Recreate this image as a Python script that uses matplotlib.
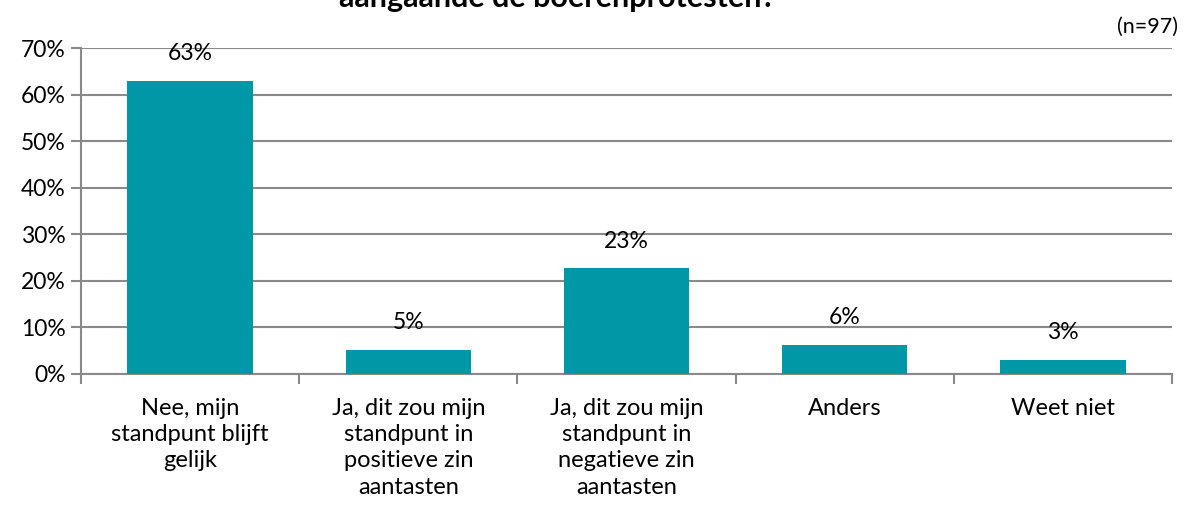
import matplotlib.pyplot as plt
import numpy as np

plt.rcParams['font.family'] = ['Lato', 'DejaVu Sans']

categories = ['Nee, mijn\nstandpunt blijft\ngelijk',
              'Ja, dit zou mijn\nstandpunt in\npositieve zin\naantasten',
              'Ja, dit zou mijn\nstandpunt in\nnegatieve zin\naantasten',
              'Anders',
              'Weet niet']
values = [62.9, 5.2, 22.7, 6.2, 3.1]
yticks = [0, 10, 20, 30, 40, 50, 60, 70]

teal = '#0097A7'
grid = '#898989'

fig = plt.figure(figsize=(11.86, 5.19), dpi=100)
ax = fig.add_axes([81 / 1186, 1 - 374 / 519, (1172 - 81) / 1186, (374 - 48) / 519])

x = np.arange(len(categories))
bars = ax.bar(x, values, width=0.575, color=teal, zorder=3)
for xi, v in zip(x, values):
    ax.annotate(f'{round(v)}%', (xi, v), xytext=(0, 12), textcoords='offset points',
                ha='center', va='bottom', fontsize=16.5)

ax.set_xlim(-0.5, len(categories) - 0.5)
ax.set_ylim(0, 70)
ax.set_yticks(yticks)
ax.set_yticklabels([f'{t}%' for t in yticks], fontsize=16.5)
ax.yaxis.grid(True, color=grid, linewidth=1.5, zorder=0)
ax.tick_params(axis='y', length=7, width=1.5, color=grid, pad=4)

ax.set_xticks(np.arange(len(categories) + 1) - 0.5)
ax.set_xticklabels([])
ax.set_xticks(x, minor=True)
ax.set_xticklabels(categories, minor=True, fontsize=17, linespacing=1.32, va='top')
ax.tick_params(axis='x', which='major', length=7, width=1.5, color=grid)
ax.tick_params(axis='x', which='minor', length=0, pad=17)

for s in ['top', 'right']:
    ax.spines[s].set_visible(False)
for s in ['left', 'bottom']:
    ax.spines[s].set_color(grid)
    ax.spines[s].set_linewidth(1.5)

fig.text(557 / 1186, 1 - 7 / 519, 'aangaande de boerenprotesten?', ha='center',
         va='baseline', fontsize=22, fontweight='bold')
fig.text(1178 / 1186, 1 - 27 / 519, '(n=97)', ha='right', va='center', fontsize=15.5)

fig.savefig('out.png', dpi=100)
